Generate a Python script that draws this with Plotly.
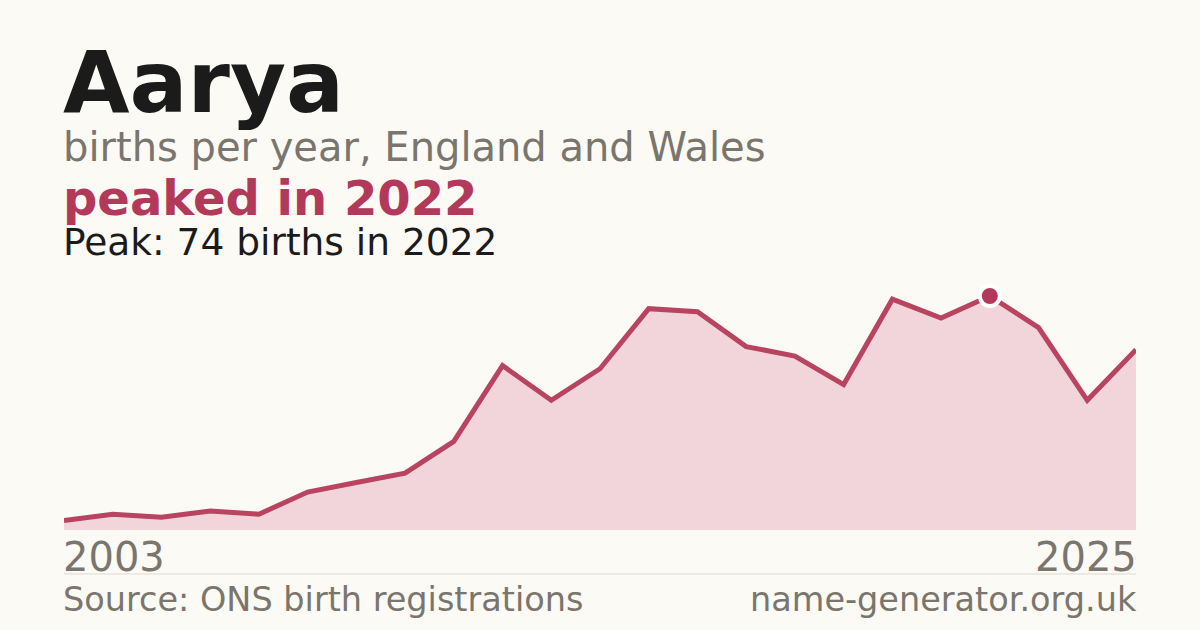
import plotly.graph_objects as go

# births per year for "Aarya"
years = list(range(2003, 2026))
births = [3, 5, 4, 6, 5, 12, 15, 18, 28, 52, 41, 51, 70, 69, 58, 55, 46, 73, 67, 74, 64, 41, 57]

peak_year = 2022
peak_births = 74

name = "Aarya"
subtitle = "births per year, England and Wales"
headline = "peaked in 2022"
peak_text = "Peak: 74 births in 2022"
source_text = "Source: ONS birth registrations"
site_text = "name-generator.org.uk"

RED = "#b3395a"
LINE = "#b9445f"
FILL = "#f2d5db"
GREY = "#7a756d"
INK = "#1b1b1b"
BG = "#fbfaf5"
FONT = "DejaVu Sans"

W, H = 1200, 630
top, bottom = 270, 530
plot_h = bottom - top


def py(pix):
    # pixel row -> paper y
    return (bottom - pix) / plot_h


fig = go.Figure()

fig.add_trace(go.Scatter(
    x=years,
    y=births,
    mode="lines",
    line=dict(color=LINE, width=5),
    fill="tozeroy",
    fillcolor=FILL,
    hoverinfo="skip",
))

fig.add_trace(go.Scatter(
    x=[peak_year],
    y=[peak_births],
    mode="markers",
    marker=dict(size=20, color=RED, line=dict(color="white", width=4)),
    hoverinfo="skip",
))


def label(text, x, ypix, size, color, bold=False, xanchor="left"):
    fig.add_annotation(
        text=f"<b>{text}</b>" if bold else text,
        xref="paper", yref="paper",
        x=x, y=py(ypix),
        xanchor=xanchor, yanchor="bottom",
        xshift=-3 if xanchor == "left" else 3,
        showarrow=False,
        font=dict(family=FONT, size=size, color=color),
    )


# ypix values are baselines plus a bit of descent
label(name, 0, 113 + 0.24 * 86, 86, INK, bold=True)
label(subtitle, 0, 162 + 0.24 * 40, 40, GREY)
label(headline, 0, 216 + 0.24 * 48, 48, RED, bold=True)
label(peak_text, 0, 256.5 + 0.24 * 37.5, 37.5, INK)
label(str(years[0]), 0, 572 + 0.24 * 40, 40, GREY)
label(str(years[-1]), 1, 572 + 0.24 * 40, 40, GREY, xanchor="right")
label(source_text, 0, 612.5 + 0.24 * 33.5, 33.5, GREY)
label(site_text, 1, 612.5 + 0.24 * 33.5, 33.5, GREY, xanchor="right")

fig.add_shape(
    type="line", xref="paper", yref="paper",
    x0=0, x1=1, y0=py(574), y1=py(574),
    line=dict(color="#dcd9d1", width=1),
)

fig.update_layout(
    width=W,
    height=H,
    margin=dict(l=64, r=64, t=top, b=H - bottom, pad=0),
    paper_bgcolor=BG,
    plot_bgcolor=BG,
    showlegend=False,
    xaxis=dict(range=[years[0], years[-1]], visible=False, fixedrange=True),
    yaxis=dict(range=[0, peak_births * plot_h / (bottom - 296)], visible=False, fixedrange=True),
)

fig.write_html(
    "out.html",
    config={"displayModeBar": False},
    post_script="document.body.style.margin='0';document.body.style.background='#fbfaf5';",
)
